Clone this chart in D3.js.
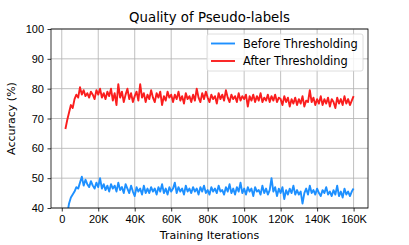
<!DOCTYPE html>
<html>
<head>
<meta charset="utf-8">
<script src="https://cdn.jsdelivr.net/npm/d3@7"></script>
<style>
  body { margin: 0; background: #fff; }
  svg { display: block; font-family: "DejaVu Sans", sans-serif; }
  .grid line { stroke: #b0b0b0; stroke-width: 0.8; }
  .axis text { font-size: 11px; fill: #000; }
  .axis path { display: none; }
  .axis line { stroke: #000; stroke-width: 0.8; }
</style>
</head>
<body>
<div id="main"></div>
<script>
// training iterations (every 1K, from 2K to 160K)
var iterations = d3.range(2000, 160001, 1000);

var beforeThresh = [
  34, 38, 41.5, 43.5, 44.5, 45.5, 47, 46.5, 48.5, 50.5,
  47.5, 49.5, 48, 47, 49, 47.5, 46.5, 48.5, 47, 50,
  46.5, 48, 46, 47.5, 45.5, 48, 46.5, 47.5, 45.5, 48.5,
  46, 47, 45, 48, 46.5, 45, 47.5, 45.5, 44, 47,
  45.5, 46.5, 44.5, 47.5, 45, 46.5, 45, 47, 45.5, 46.5,
  44.5, 47, 45.5, 48, 45, 46.5, 44.5, 47, 45.5, 46.5,
  48.5, 45, 47, 45.5, 46.5, 44.5, 47.5, 45.5, 46.5, 45,
  47, 45.5, 46.5, 44.5, 47, 45.5, 47.5, 45, 46, 44.5,
  47, 45.5, 46.5, 45, 47.5, 45.5, 46, 44.5, 47, 45.5,
  48, 45, 46.5, 44.5, 47, 45.5, 48.5, 45, 46.5, 44.5,
  47, 45.5, 46.5, 44, 47, 45.5, 46, 44.5, 47.5, 45,
  46.5, 44.5, 46, 50, 45.5, 47, 44, 46.5, 45, 47,
  43, 46, 44.5, 46.5, 45, 47.5, 44.5, 46, 44.5, 45.5,
  41.5, 45, 46.5, 44.5, 47.5, 45, 46, 44.5, 46.5, 45,
  44, 46, 45, 47, 44.5, 45.5, 44, 46, 44.5, 47.5,
  44, 45.5, 43.5, 46.5, 44.5, 45.5, 44, 45.5, 46.5
];

var afterThresh = [
  66.5, 69.5, 72, 74.5, 73.5, 76.5, 78, 77, 80.5, 78,
  79.5, 77.5, 78.5, 77, 79, 78, 76.5, 79.5, 78, 80,
  77, 78.5, 76.5, 79, 77.5, 80, 76, 78.5, 74.5, 81.5,
  77, 79, 75.5, 78, 80, 76.5, 78.5, 75.5, 77.5, 79,
  76, 81.5, 77, 78.5, 75.5, 78, 76.5, 79.5, 77, 75.5,
  78.5, 77, 79, 74.5, 77.5, 76, 79, 77, 78, 75.5,
  78, 76.5, 79, 76, 77.5, 75, 78.5, 76.5, 77.5, 75.5,
  78, 76, 80, 77, 75.5, 78.5, 76.5, 79, 77, 75.5,
  78, 76.5, 77.5, 75, 78.5, 76.5, 78, 76, 79.5, 77,
  75.5, 78, 76.5, 77.5, 75.5, 78.5, 76, 77.5, 76.5, 78,
  74, 77.5, 76, 78, 75.5, 77.5, 76, 78.5, 75.5, 77,
  76, 78, 75.5, 77.5, 76, 78, 75.5, 77, 76.5, 74.5,
  77.5, 75.5, 77, 74, 76.5, 75, 77, 74.5, 76.5, 75,
  77.5, 74, 76, 75.5, 79.5, 75.5, 77, 74.5, 76.5, 75,
  77.5, 74.5, 76.5, 75, 77, 74, 76.5, 75.5, 73.5, 77,
  75, 76.5, 74.5, 77.5, 75, 76.5, 74.5, 76, 77.5
];

var xTicks = [0, 20000, 40000, 60000, 80000, 100000, 120000, 140000, 160000];
var xTickLabels = ['0', '20K', '40K', '60K', '80K', '100K', '120K', '140K', '160K'];
var yTicks = [40, 50, 60, 70, 80, 90, 100];

var seriesNames = ['Before Thresholding', 'After Thresholding'];
var seriesColors = ['#1e90ff', '#fa1e1e'];

var width = 409, height = 245;
var margin = {top: 29, right: 41, bottom: 37, left: 51};
var innerW = width - margin.left - margin.right;
var innerH = height - margin.top - margin.bottom;

var svg = d3.select('#main').append('svg')
            .attr('width', width)
            .attr('height', height);

var x = d3.scaleLinear()
          .domain([-5900, 167900])
          .range([0, innerW]);
var y = d3.scaleLinear()
          .domain([40, 100])
          .range([innerH, 0]);

var g = svg.append('g')
           .attr('transform', 'translate(' + margin.left + ',' + margin.top + ')');

g.append('clipPath')
 .attr('id', 'plotClip')
 .append('rect')
 .attr('width', innerW)
 .attr('height', innerH);

// grid
var grid = g.append('g').attr('class', 'grid');
grid.selectAll('.vx')
    .data(xTicks)
    .enter().append('line')
    .attr('x1', function(d){ return x(d); })
    .attr('x2', function(d){ return x(d); })
    .attr('y1', 0)
    .attr('y2', innerH);
grid.selectAll('.hy')
    .data(yTicks)
    .enter().append('line')
    .attr('x1', 0)
    .attr('x2', innerW)
    .attr('y1', function(d){ return y(d); })
    .attr('y2', function(d){ return y(d); });

// lines
var line = d3.line()
             .x(function(d){ return x(d[0]); })
             .y(function(d){ return y(d[1]); });

var series = [beforeThresh, afterThresh];
for (var i = 0; i < series.length; i++){
  g.append('path')
   .datum(d3.zip(iterations, series[i]))
   .attr('clip-path', 'url(#plotClip)')
   .attr('fill', 'none')
   .attr('stroke', seriesColors[i])
   .attr('stroke-width', 1.9)
   .attr('stroke-linejoin', 'round')
   .attr('d', line);
}

// axes
g.append('g')
 .attr('class', 'axis')
 .attr('transform', 'translate(0,' + innerH + ')')
 .call(d3.axisBottom(x)
         .tickValues(xTicks)
         .tickFormat(function(d, i){ return xTickLabels[i]; })
         .tickSize(3.5)
         .tickPadding(3.5));

g.append('g')
 .attr('class', 'axis')
 .call(d3.axisLeft(y)
         .tickValues(yTicks)
         .tickSize(3.5)
         .tickPadding(3.5));

// frame
g.append('rect')
 .attr('width', innerW)
 .attr('height', innerH)
 .attr('fill', 'none')
 .attr('stroke', '#000')
 .attr('stroke-width', 0.8);

// title and labels
svg.append('text')
   .attr('x', margin.left + innerW / 2)
   .attr('y', 22)
   .attr('text-anchor', 'middle')
   .attr('font-size', 13.3)
   .text('Quality of Pseudo-labels');

svg.append('text')
   .attr('x', margin.left + innerW / 2)
   .attr('y', 238.5)
   .attr('text-anchor', 'middle')
   .attr('font-size', 11)
   .text('Training Iterations');

svg.append('text')
   .attr('transform', 'translate(15,' + (margin.top + innerH / 2) + ') rotate(-90)')
   .attr('text-anchor', 'middle')
   .attr('font-size', 11)
   .text('Accuracy (%)');

// legend
var legend = g.append('g')
              .attr('transform', 'translate(' + (innerW - 161) + ',5)');
legend.append('rect')
      .attr('width', 156)
      .attr('height', 37)
      .attr('rx', 2)
      .attr('fill', '#fff')
      .attr('fill-opacity', 0.8)
      .attr('stroke', '#d6d6d6')
      .attr('stroke-width', 0.8);

var items = legend.selectAll('.item')
                  .data(seriesNames)
                  .enter().append('g')
                  .attr('transform', function(d, i){ return 'translate(0,' + (9.5 + i * 17.5) + ')'; });
items.append('line')
     .attr('x1', 4)
     .attr('x2', 28)
     .attr('stroke', function(d, i){ return seriesColors[i]; })
     .attr('stroke-width', 1.9);
items.append('text')
     .attr('x', 36)
     .attr('dy', '0.35em')
     .attr('font-size', 11.4)
     .text(function(d){ return d; });
</script>
</body>
</html>
